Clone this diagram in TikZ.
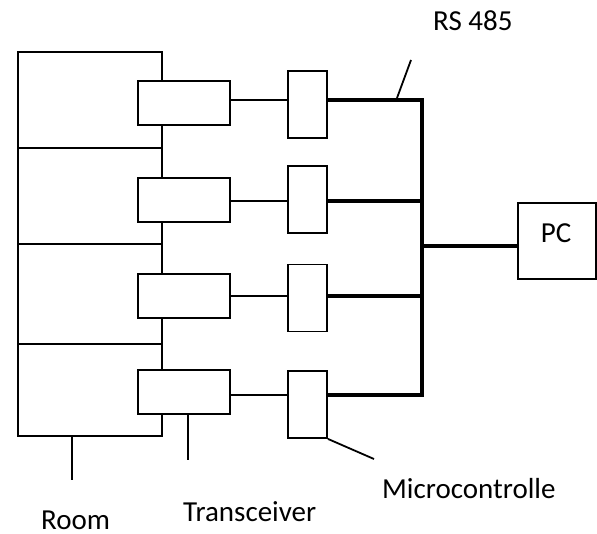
\documentclass[tikz,border=0pt]{standalone}
\usepackage{fontspec}
\setmainfont{Carlito}
\begin{document}
\begin{tikzpicture}[x=1pt,y=-1pt,
  thin line/.style={line width=1.8pt},
  bus/.style={line width=4.6pt},
  trx/.style={draw,thin line,fill=white,minimum width=92pt,minimum height=44pt,inner sep=0pt},
  mcu/.style={draw,thin line,fill=white,minimum width=39pt,minimum height=67pt,inner sep=0pt},
  pcbox/.style={draw,thin line,fill=white,minimum width=78pt,minimum height=76pt,inner sep=0pt},
  lbl/.style={font=\fontsize{29}{32}\selectfont,inner sep=0pt,text depth=0pt,anchor=base west}]
\useasboundingbox (0,0) rectangle (597,533);
% room
\draw[thin line] (162,52) -- (18,52) -- (18,436) -- (162,436) -- cycle;
\draw[thin line] (18,148) -- (162,148);
\draw[thin line] (18,244) -- (162,244);
\draw[thin line] (18,344) -- (162,344);
% transceivers
\node[trx] (t1) at (184,103) {};
\node[trx] (t2) at (184,200) {};
\node[trx] (t3) at (184,296) {};
\node[trx] (t4) at (184,392) {};
% microcontrollers
\node[mcu] (m1) at (307.5,104.5) {};
\node[mcu] (m2) at (307.5,199.5) {};
\node[mcu] (m3) at (307.5,298) {};
\node[mcu] (m4) at (307.5,404.5) {};
% PC
\node[pcbox] (pc) at (557,241) {};
\node[lbl,anchor=base] (pct) at (556,242) {PC};
% links transceiver - mcu
\draw[thin line] (t1.east |- 0,100) -- (m1.west |- 0,100);
\draw[thin line] (t2.east |- 0,201) -- (m2.west |- 0,201);
\draw[thin line] (t3.east |- 0,296) -- (m3.west |- 0,296);
\draw[thin line] (t4.east |- 0,395) -- (m4.west |- 0,395);
% bus
\coordinate (btop) at (422,100);
\coordinate (bbot) at (422,395);
\draw[bus] (m1.east |- btop) -- (btop) -- (bbot) -- (m4.east |- bbot);
\draw[bus] (m2.east |- 0,201) -- (422,201);
\draw[bus] (m3.east |- 0,296) -- (422,296);
\draw[bus] (422,246) -- (pc.west |- 0,246);
% leaders
\coordinate (rsl) at (411,60);
\draw[thin line] (397,98) -- (rsl);
\coordinate (rooml) at (72,480);
\draw[thin line] (72,436) -- (rooml);
\coordinate (trxl) at (188,460);
\draw[thin line] (t4.south -| 188,0) -- (trxl);
\coordinate (mcul) at (374,459);
\draw[thin line] (m4.south east) -- (mcul);
% labels
\node[lbl] (rs) at (433,30) {RS 485};
\node[lbl] (mc) at (382,498) {Microcontrolle};
\node[lbl] (tr) at (183,521) {Transceiver};
\node[lbl] (ro) at (41,529) {Room};
\end{tikzpicture}
\end{document}
